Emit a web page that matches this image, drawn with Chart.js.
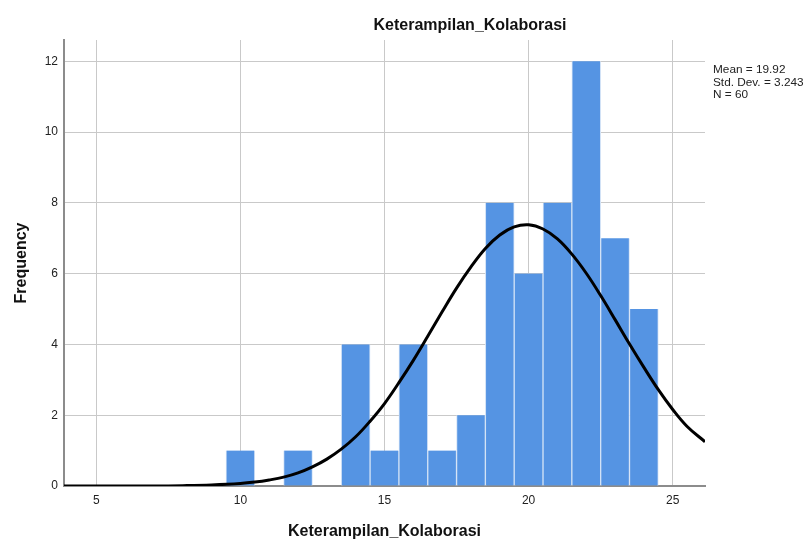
<!DOCTYPE html>
<html lang="id">
<head>
  <meta charset="UTF-8">
  <title>Keterampilan_Kolaborasi</title>
  <script src="https://cdn.jsdelivr.net/npm/chart.js"></script>
  <style>
    html, body {
      margin: 0;
      padding: 0;
      background: #fff;
    }
    .wrap {
      width: 806px;
      height: 541px;
      position: relative;
    }
  </style>
</head>
<body>
  <div class="wrap">
    <canvas id="chartCanvas" width="806" height="541"></canvas>
  </div>

  <script>
    // histogram bins (centre of bin) and counts
    const binCenters = [10, 12, 14, 15, 16, 17, 18, 19, 20, 21, 22, 23, 24];
    const counts = [1, 1, 4, 1, 4, 1, 2, 8, 6, 8, 12, 7, 5];

    // normal curve
    const curveX = [3.88, 5, 6, 7, 8, 9, 10, 10.5, 11, 11.5, 12, 12.5, 13, 13.5, 14, 14.5, 15, 15.5, 16, 16.5,
      17, 17.5, 18, 18.5, 19, 19.5, 20, 20.5, 21, 21.5, 22, 22.5, 23, 23.5, 24, 24.5, 25, 25.5, 26.12];
    const curveY = [0, 0, 0, 0, 0.01, 0.03, 0.07, 0.11, 0.17, 0.25, 0.37, 0.54, 0.76, 1.04, 1.39, 1.83, 2.33, 2.92, 3.55, 4.23,
      4.92, 5.59, 6.19, 6.71, 7.09, 7.32, 7.38, 7.26, 6.98, 6.55, 6.01, 5.38, 4.70, 4.01, 3.35, 2.72, 2.16, 1.68, 1.25];

    const xTicks = [5, 10, 15, 20, 25];
    const yTicks = [0, 2, 4, 6, 8, 10, 12];
    const xRange = [3.88, 26.12];
    const yRange = [0, 12.6];

    const chartTitle = 'Keterampilan_Kolaborasi';
    const xTitle = 'Keterampilan_Kolaborasi';
    const yTitle = 'Frequency';
    const statsLines = ['Mean = 19.92', 'Std. Dev. = 3.243', 'N = 60'];

    const FONT = "'Liberation Sans', Arial, sans-serif";

    // title + stats box drawn next to the plot
    const textPlugin = {
      id: 'spssText',
      afterDraw(chart) {
        const ctx = chart.ctx;
        const area = chart.chartArea;
        ctx.save();
        ctx.fillStyle = '#111';
        ctx.font = 'bold 16px ' + FONT;
        ctx.textAlign = 'center';
        ctx.textBaseline = 'alphabetic';
        ctx.fillText(chartTitle, 470, 30);

        ctx.font = '11.8px ' + FONT;
        ctx.textAlign = 'left';
        ctx.fillStyle = '#222';
        statsLines.forEach((line, i) => {
          ctx.fillText(line, area.right + 8, 73 + i * 12.5);
        });
        ctx.restore();
      }
    };

    const chart = new Chart(document.getElementById('chartCanvas'), {
      type: 'bar',
      data: {
        datasets: [
          {
            type: 'line',
            data: curveX.map((x, i) => ({ x: x, y: curveY[i] })),
            borderColor: '#000',
            borderWidth: 3,
            pointRadius: 0,
            tension: 0.4,
            fill: false,
            order: 0
          },
          {
            type: 'bar',
            data: binCenters.map((x, i) => ({ x: x, y: counts[i] })),
            backgroundColor: '#5594e3',
            borderColor: '#d2e2f6',
            borderWidth: { left: 1, right: 1, top: 0, bottom: 0 },
            borderSkipped: false,
            barPercentage: 1,
            categoryPercentage: 1,
            order: 1
          }
        ]
      },
      options: {
        responsive: false,
        animation: false,
        layout: { padding: { left: 12, right: 101, top: 40, bottom: 0 } },
        plugins: {
          legend: { display: false },
          tooltip: { enabled: false }
        },
        scales: {
          x: {
            type: 'linear',
            offset: false,
            min: xRange[0],
            max: xRange[1],
            afterBuildTicks: s => { s.ticks = xTicks.map(v => ({ value: v })); },
            afterFit: s => { s.height = 55; },
            grid: { color: '#c9c9c9', lineWidth: 1, drawTicks: false, offset: false },
            border: { color: '#8c8c8c', width: 2 },
            ticks: { color: '#222', font: { family: FONT, size: 12 }, padding: 7, maxRotation: 0 },
            title: {
              display: true,
              text: xTitle,
              color: '#111',
              font: { family: FONT, size: 16, weight: 'bold' },
              padding: { top: 0, bottom: 0 }
            }
          },
          y: {
            min: yRange[0],
            max: yRange[1],
            afterBuildTicks: s => { s.ticks = yTicks.map(v => ({ value: v })); },
            afterFit: s => { s.width = 52; },
            grid: { color: '#c9c9c9', lineWidth: 1, drawTicks: false },
            border: { color: '#8c8c8c', width: 2 },
            ticks: { color: '#222', font: { family: FONT, size: 12 }, padding: 6 },
            title: {
              display: true,
              text: yTitle,
              color: '#111',
              font: { family: FONT, size: 16, weight: 'bold' },
              padding: { top: 0, bottom: 0 }
            }
          }
        }
      },
      plugins: [textPlugin]
    });
  </script>
</body>
</html>
